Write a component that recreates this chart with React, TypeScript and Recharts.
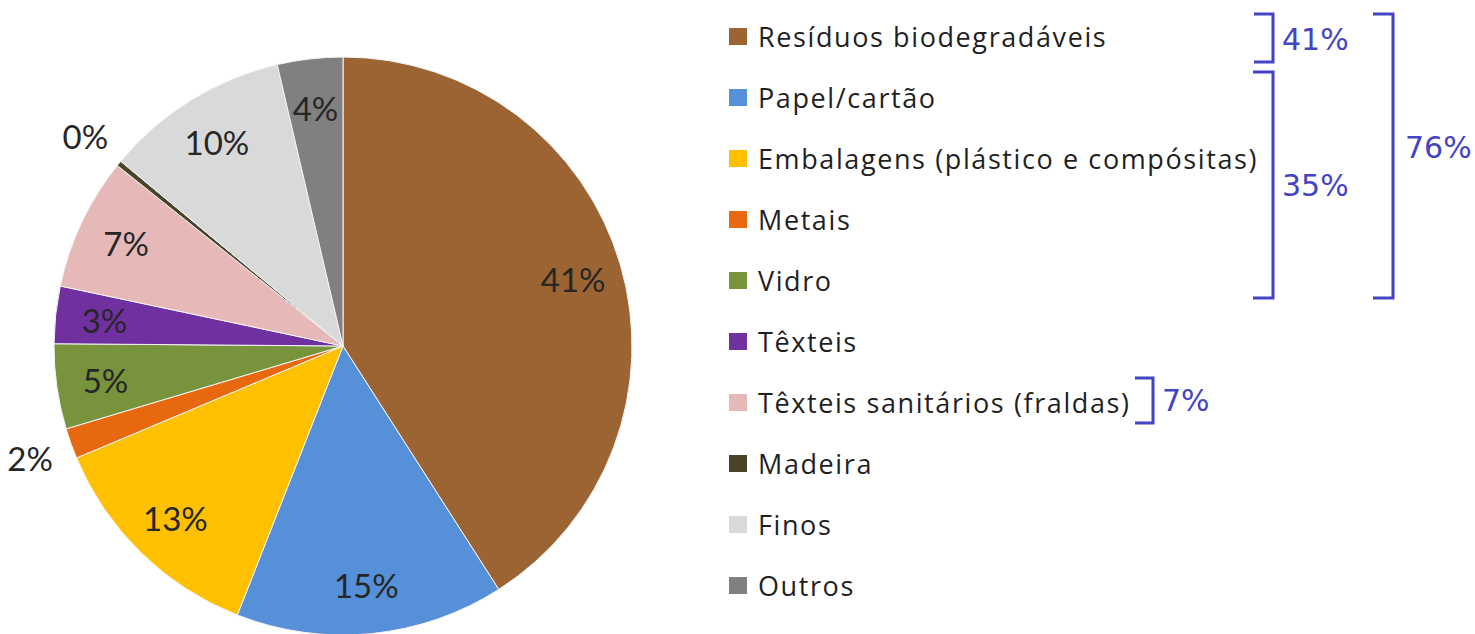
import React from 'react';
import { PieChart, Pie, Cell } from 'recharts';

// composition of waste (shares in %)
const categories = [
  'Resíduos biodegradáveis',
  'Papel/cartão',
  'Embalagens (plástico e compósitas)',
  'Metais',
  'Vidro',
  'Têxteis',
  'Têxteis sanitários (fraldas)',
  'Madeira',
  'Finos',
  'Outros',
];
const shares = [40.9, 15.0, 12.7, 1.7, 4.75, 3.2, 7.4, 0.3, 10.3, 3.65];
const colors = [
  '#9C6432',
  '#5590D8',
  '#FFC000',
  '#E8680F',
  '#77933C',
  '#7030A0',
  '#E6B9B8',
  '#4A452A',
  '#D9D9D9',
  '#808080',
];

// hand-drawn group brackets next to the legend
const bracketLabels = ['41%', '35%', '76%', '7%'];

const chartData = categories.map((name, i) => ({ name, value: shares[i] }));

const FONT = 'Lato, "Open Sans", sans-serif';
const LEGEND_FONT = '"Open Sans", Lato, sans-serif';
const BRACKET_FONT = '"DejaVu Sans", Verdana, sans-serif';
const BRACKET_COLOR = '#4343C4';
const RADIAN = Math.PI / 180;

// inside labels for normal slices, outside for the thin ones (Excel "best fit")
const renderLabel = (props: any) => {
  const { cx, cy, midAngle, outerRadius, percent } = props;
  const pct = Math.round(percent * 100);
  const r = percent < 0.025 ? outerRadius * 1.15 : outerRadius * 0.83;
  const x = cx + r * Math.cos(-midAngle * RADIAN);
  const y = cy + r * Math.sin(-midAngle * RADIAN);
  return (
    <text
      x={x}
      y={y}
      textAnchor="middle"
      dominantBaseline="central"
      fill="#262626"
      fontSize={33}
      fontFamily={FONT}
    >
      {`${pct}%`}
    </text>
  );
};

const Bracket = ({ x, top, bottom, arm }: { x: number; top: number; bottom: number; arm: number }) => (
  <path
    d={`M ${x - arm} ${top} H ${x} V ${bottom} H ${x - arm}`}
    fill="none"
    stroke={BRACKET_COLOR}
    strokeWidth={3}
  />
);

const App: React.FC = () => {
  return (
    <div style={{ position: 'absolute', left: 0, top: 0, width: 1475, height: 634, background: '#fff' }}>
      <PieChart width={700} height={634} margin={{ top: 0, right: 0, bottom: 0, left: 0 }}>
        <Pie
          data={chartData}
          dataKey="value"
          nameKey="name"
          cx={343}
          cy={346}
          outerRadius={289}
          startAngle={90}
          endAngle={-270}
          stroke="#f4f4f4"
          strokeWidth={1}
          label={renderLabel}
          labelLine={false}
          isAnimationActive={false}
        >
          {chartData.map((d, i) => (
            <Cell key={d.name} fill={colors[i]} />
          ))}
        </Pie>
      </PieChart>

      {/* legend */}
      <div style={{ position: 'absolute', left: 729, top: 6 }}>
        {categories.map((name, i) => (
          <div key={name} style={{ display: 'flex', alignItems: 'center', height: 61 }}>
            <span
              style={{
                display: 'inline-block',
                width: 18,
                height: 17,
                background: colors[i],
                marginRight: 11,
              }}
            />
            <span
              style={{
                fontFamily: LEGEND_FONT,
                fontSize: 27,
                letterSpacing: 1.6,
                color: '#1f1f1f',
                whiteSpace: 'nowrap',
              }}
            >
              {name}
            </span>
          </div>
        ))}
      </div>

      <svg
        width={1475}
        height={634}
        style={{ position: 'absolute', left: 0, top: 0, pointerEvents: 'none' }}
      >
        <Bracket x={1273} top={14} bottom={62} arm={19} />
        <Bracket x={1273} top={72} bottom={298} arm={20} />
        <Bracket x={1393} top={14} bottom={298} arm={20} />
        <Bracket x={1153} top={378} bottom={423} arm={18} />
        <g fill={BRACKET_COLOR} fontFamily={BRACKET_FONT} fontSize={30} dominantBaseline="central">
          <text x={1282} y={39}>{bracketLabels[0]}</text>
          <text x={1282} y={185}>{bracketLabels[1]}</text>
          <text x={1405} y={147}>{bracketLabels[2]}</text>
          <text x={1162} y={400}>{bracketLabels[3]}</text>
        </g>
      </svg>
    </div>
  );
};

export default App;
